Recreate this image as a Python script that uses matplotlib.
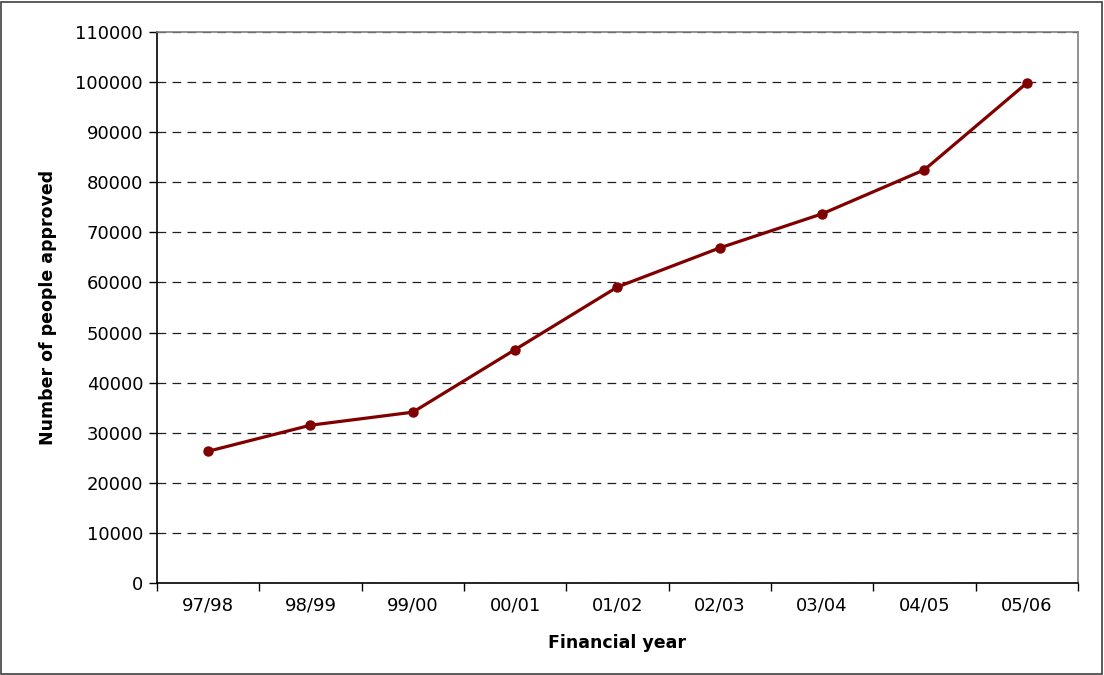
import matplotlib
matplotlib.use("Agg")
import matplotlib.pyplot as plt
import numpy as np
from matplotlib.patches import Rectangle

# Approvals per financial year
years = ["97/98", "98/99", "99/00", "00/01", "01/02", "02/03", "03/04", "04/05", "05/06"]
approved = [26300, 31500, 34100, 46600, 59100, 66900, 73700, 82500, 99800]

LINE_COLOR = "#800000"

plt.rcParams["font.family"] = ["DejaVu Sans"]

fig = plt.figure(figsize=(11.04, 6.75), dpi=100)
ax = fig.add_axes([0.1422, 0.1363, 0.9764 - 0.1422, 0.9526 - 0.1363])

x = np.arange(len(years))
ax.plot(x, approved, color=LINE_COLOR, linewidth=2.3, marker="o", markersize=6.5,
        zorder=3, clip_on=False)

# Category boundaries carry the tick marks, labels sit between them
ax.set_xlim(-0.5, len(years) - 0.5)
ax.set_xticks(np.arange(len(years) + 1) - 0.5)
ax.set_xticklabels([])
ax.set_xticks(x, minor=True)
ax.set_xticklabels(years, minor=True)
ax.tick_params(axis="x", which="major", direction="out", length=6, width=1, color="black")
ax.tick_params(axis="x", which="minor", length=0, pad=10, labelsize=13)

ax.set_ylim(0, 110000)
ax.set_yticks(np.arange(0, 110001, 10000))
ax.tick_params(axis="y", direction="out", length=6, width=1, color="black", pad=4, labelsize=13)

ax.yaxis.grid(True, linestyle=(0, (7, 5)), color="#202020", linewidth=0.9)
ax.set_axisbelow(True)

for side in ["left", "bottom"]:
    ax.spines[side].set_color("black")
    ax.spines[side].set_linewidth(1.2)
for side in ["right", "top"]:
    ax.spines[side].set_color("#808080")
    ax.spines[side].set_linewidth(1.2)

ax.set_xlabel("Financial year", fontsize=12.5, fontweight="bold", labelpad=14)
ax.set_ylabel("Number of people approved", fontsize=12.5, fontweight="bold", labelpad=13)

# Thin frame around the whole chart
fig.patches.append(Rectangle((0.001, 0.002), 0.997, 0.995, transform=fig.transFigure,
                             fill=False, edgecolor="#404040", linewidth=1.2))

fig.savefig("out.png", dpi=100)
